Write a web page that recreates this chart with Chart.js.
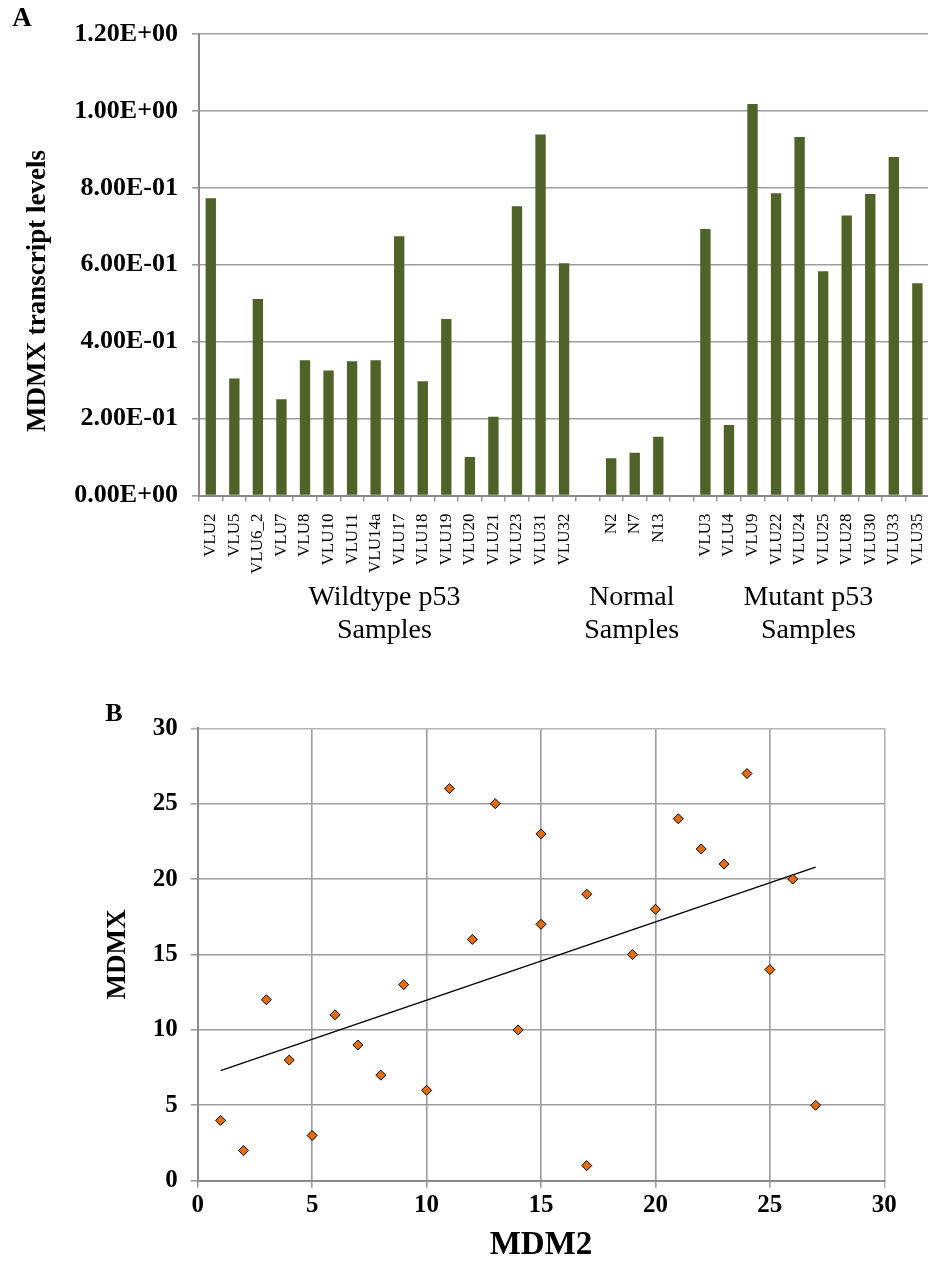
<!DOCTYPE html>
<html>
<head>
<meta charset="utf-8">
<script src="https://cdn.jsdelivr.net/npm/chart.js@4.4.1/dist/chart.umd.min.js"></script>
<style>
  html, body { margin: 0; padding: 0; background: #ffffff; overflow: hidden; }
  body { width: 928px; height: 1268px; position: relative; }
  #barCanvas { position: absolute; left: 0; top: 0; }
  #scatterCanvas { position: absolute; left: 0; top: 660px; }
</style>
</head>
<body>
<canvas id="barCanvas" width="950" height="660"></canvas>
<canvas id="scatterCanvas" width="928" height="608"></canvas>
<script>
// ---- Panel A: MDMX transcript levels per sample ----
const wildtypeSamples = ['VLU2','VLU5','VLU6_2','VLU7','VLU8','VLU10','VLU11','VLU14a','VLU17','VLU18','VLU19','VLU20','VLU21','VLU23','VLU31','VLU32'];
const wildtypeLevels  = [0.773, 0.304, 0.511, 0.250, 0.352, 0.325, 0.349, 0.352, 0.674, 0.297, 0.459, 0.100, 0.205, 0.752, 0.939, 0.604];
const normalSamples   = ['N2','N7','N13'];
const normalLevels    = [0.097, 0.111, 0.153];
const mutantSamples   = ['VLU3','VLU4','VLU9','VLU22','VLU24','VLU25','VLU28','VLU30','VLU33','VLU35'];
const mutantLevels    = [0.693, 0.183, 1.018, 0.786, 0.932, 0.583, 0.728, 0.784, 0.880, 0.552];
const yTickLabels     = ['0.00E+00','2.00E-01','4.00E-01','6.00E-01','8.00E-01','1.00E+00','1.20E+00'];
const groupTitles     = [['Wildtype p53','Samples'], ['Normal','Samples'], ['Mutant p53','Samples']];

// ---- Panel B: MDMX vs MDM2 ----
const mdm2Values = [1, 2, 3, 4, 5, 6, 7, 8, 9, 10, 11, 12, 13, 14, 15, 15, 17, 17, 19, 20, 21, 22, 23, 24, 25, 26, 27];
const mdmxValues = [4, 2, 12, 8, 3, 11, 9, 7, 13, 6, 26, 16, 25, 10, 23, 17, 19, 1, 15, 18, 24, 22, 21, 27, 14, 20, 5];
const trendX = [1, 27];
const trendY = [7.3, 20.8];
const scatterTicks = [0, 5, 10, 15, 20, 25, 30];

// Combined category axis: one empty slot separates the sample groups
const categories = [...wildtypeSamples, '', ...normalSamples, '', ...mutantSamples];
const levels = [...wildtypeLevels, null, ...normalLevels, null, ...mutantLevels];
const groupRanges = [];
(function () {
  let start = 0;
  [wildtypeSamples, normalSamples, mutantSamples].forEach(g => {
    groupRanges.push([start, start + g.length - 1]);
    start += g.length + 1;
  });
})();

const SERIF = "'Liberation Serif', 'Times New Roman', serif";

const barDecor = {
  id: 'barDecor',
  afterDraw(chart) {
    const ctx = chart.ctx;
    const xs = chart.scales.x;
    ctx.save();
    ctx.fillStyle = '#000';
    // panel letter
    ctx.font = 'bold 27px ' + SERIF;
    ctx.textAlign = 'center';
    ctx.textBaseline = 'middle';
    ctx.fillText('A', 22, 19);
    // group captions under the sample names
    ctx.font = '28px ' + SERIF;
    groupRanges.forEach((r, i) => {
      const cx = (xs.getPixelForValue(r[0]) + xs.getPixelForValue(r[1])) / 2 - 3;
      ctx.fillText(groupTitles[i][0], cx, 598);
      ctx.fillText(groupTitles[i][1], cx, 631);
    });
    // value axis title
    ctx.translate(38, 291);
    ctx.rotate(-Math.PI / 2);
    ctx.font = 'bold 27px ' + SERIF;
    ctx.fillText('MDMX transcript levels', 0, 0);
    ctx.restore();
  }
};

new Chart(document.getElementById('barCanvas'), {
  type: 'bar',
  data: {
    labels: categories,
    datasets: [{
      data: levels,
      backgroundColor: '#4F6228',
      borderWidth: 0,
      categoryPercentage: 1.0,
      barPercentage: 0.44
    }]
  },
  options: {
    responsive: false,
    animation: false,
    devicePixelRatio: 1,
    layout: { padding: { left: 0, top: 34, right: 14, bottom: 0 } },
    plugins: { legend: { display: false }, tooltip: { enabled: false } },
    scales: {
      x: {
        type: 'category',
        offset: true,
        grid: { offset: true, drawOnChartArea: false, drawTicks: true, tickLength: 6, color: '#9a9a9a', lineWidth: 1.5 },
        border: { display: true, color: '#8a8a8a', width: 2 },
        ticks: {
          autoSkip: false, minRotation: 90, maxRotation: 90, padding: 12,
          color: '#000', font: { family: SERIF, size: 17 }
        },
        afterFit(scale) { scale.height = 164.5; }
      },
      y: {
        min: 0, max: 1.2,
        ticks: {
          stepSize: 0.2, padding: 14, color: '#000',
          font: { family: SERIF, size: 26, weight: 'bold' },
          callback: (v, i) => yTickLabels[i]
        },
        grid: { color: '#9d9d9d', lineWidth: 1.6, tickLength: 7 },
        border: { display: true, color: '#8a8a8a', width: 2 },
        afterFit(scale) { scale.width = 199; }
      }
    }
  },
  plugins: [barDecor]
});

// ---- Panel B chart ----
const scatterDecor = {
  id: 'scatterDecor',
  afterDraw(chart) {
    const ctx = chart.ctx;
    ctx.save();
    ctx.fillStyle = '#000';
    ctx.font = 'bold 26px ' + SERIF;
    ctx.textAlign = 'center';
    ctx.textBaseline = 'middle';
    ctx.fillText('B', 114, 54);
    ctx.restore();
  }
};

const gridColor = c => (c.tick && c.tick.value === 30 ? '#b5b5b5' : '#9d9d9d');

new Chart(document.getElementById('scatterCanvas'), {
  type: 'scatter',
  data: {
    datasets: [
      {
        data: mdm2Values.map((x, i) => ({ x: x, y: mdmxValues[i] })),
        pointStyle: 'rectRot',
        pointRadius: 5,
        pointBackgroundColor: '#E46C0A',
        pointBorderColor: '#000',
        pointBorderWidth: 1,
        order: 0
      },
      {
        type: 'line',
        data: trendX.map((x, i) => ({ x: x, y: trendY[i] })),
        borderColor: '#000',
        borderWidth: 1.3,
        pointRadius: 0,
        fill: false,
        order: 1
      }
    ]
  },
  options: {
    responsive: false,
    animation: false,
    devicePixelRatio: 1,
    layout: { padding: { left: 0, top: 68.3, right: 43.7, bottom: 0 } },
    plugins: { legend: { display: false }, tooltip: { enabled: false } },
    scales: {
      x: {
        type: 'linear', min: 0, max: 30,
        afterBuildTicks(scale) { scale.ticks = scatterTicks.map(v => ({ value: v })); },
        ticks: { padding: 3, color: '#000', font: { family: SERIF, size: 25, weight: 'bold' } },
        grid: { color: gridColor, lineWidth: 1.6, tickLength: 7 },
        border: { display: true, color: '#8a8a8a', width: 2 },
        title: {
          display: true, text: 'MDM2', color: '#000',
          font: { family: SERIF, size: 33, weight: 'bold' },
          padding: { top: 0, bottom: 3 }
        },
        afterFit(scale) { scale.height = 87.3; }
      },
      y: {
        type: 'linear', min: 0, max: 30,
        afterBuildTicks(scale) { scale.ticks = scatterTicks.map(v => ({ value: v })); },
        ticks: { padding: 13, color: '#000', font: { family: SERIF, size: 25, weight: 'bold' } },
        grid: { color: gridColor, lineWidth: 1.6, tickLength: 7 },
        border: { display: true, color: '#8a8a8a', width: 2 },
        title: {
          display: true, text: 'MDMX', color: '#000',
          font: { family: SERIF, size: 27, weight: 'bold' },
          padding: { top: 102, bottom: 0 }
        },
        afterFit(scale) { scale.width = 197.7; }
      }
    }
  },
  plugins: [scatterDecor]
});
</script>
</body>
</html>
